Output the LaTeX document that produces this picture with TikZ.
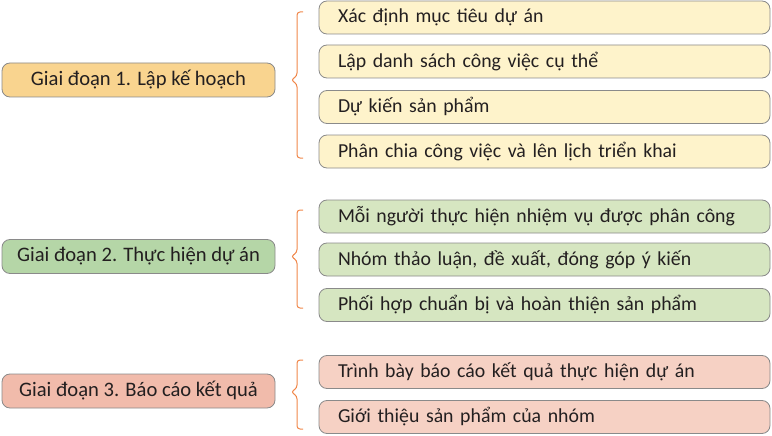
\documentclass[tikz,border=0pt]{standalone}
\usepackage{fontspec}
\setmainfont{Carlito}

\definecolor{ylwDark}{HTML}{F9D48F}
\definecolor{ylwLight}{HTML}{FEF3CB}
\definecolor{grnDark}{HTML}{B5D6A7}
\definecolor{grnLight}{HTML}{D6E6C1}
\definecolor{pnkDark}{HTML}{F1BBAB}
\definecolor{pnkLight}{HTML}{F6D1C4}
\definecolor{braceOrange}{HTML}{F0874A}
\definecolor{boxLine}{HTML}{8A8A8A}
\definecolor{txt}{HTML}{231F20}

\begin{document}
\begin{tikzpicture}[x=1pt,y=-1pt]
  \tikzset{stage/.style = {shape=rectangle, rounded corners=8pt, draw=boxLine, line width=0.8pt,
                           minimum width=273pt, minimum height=34pt, align=center, text=txt,
                           font=\fontsize{20.6pt}{24}\selectfont}}
  \tikzset{task/.style = {shape=rectangle, rounded corners=8pt, draw=boxLine, line width=0.8pt,
                          minimum width=451pt, minimum height=33pt, inner xsep=19pt, text width=413pt,
                          align=left, text=txt, font=\fontsize{19.8pt}{23}\selectfont}}
  \tikzset{bracket/.style = {draw=braceOrange, line width=1pt, rounded corners=3pt}}

  \useasboundingbox (0,0) rectangle (772,436);

  % giai doan
  \node[stage, fill=ylwDark] (p1) at (138.5,80) {Giai đoạn 1. Lập kế hoạch};
  \node[stage, fill=grnDark] (p2) at (138.5,256.5) {Giai đoạn 2. Thực hiện dự án};
  \node[stage, fill=pnkDark] (p3) at (138.5,391) {Giai đoạn 3. Báo cáo kết quả};

  % cong viec
  \node[task, fill=ylwLight] (t11) at (544.5,17.5) {Xác định mục tiêu dự án};
  \node[task, fill=ylwLight] (t12) at (544.5,61.5) {Lập danh sách công việc cụ thể};
  \node[task, fill=ylwLight] (t13) at (544.5,107) {Dự kiến sản phẩm};
  \node[task, fill=ylwLight] (t14) at (544.5,151.5) {Phân chia công việc và lên lịch triển khai};
  \node[task, fill=grnLight] (t21) at (544.5,216.5) {Mỗi người thực hiện nhiệm vụ được phân công};
  \node[task, fill=grnLight] (t22) at (544.5,259.5) {Nhóm thảo luận, đề xuất, đóng góp ý kiến};
  \node[task, fill=grnLight] (t23) at (544.5,305) {Phối hợp chuẩn bị và hoàn thiện sản phẩm};
  \node[task, fill=pnkLight] (t31) at (544.5,372) {Trình bày báo cáo kết quả thực hiện dự án};
  \node[task, fill=pnkLight] (t32) at (544.5,417) {Giới thiệu sản phẩm của nhóm};

  % ngoac
  \draw[bracket] (303,12) -- (297,12) -- (297,76) -- (291,80) -- (297,84) -- (297,158) -- (303,158);
  \draw[bracket] (303,210) -- (297,210) -- (297,252.5) -- (291,256.5) -- (297,260.5) -- (297,308) -- (303,308);
  \draw[bracket] (303,360) -- (297,360) -- (297,388) -- (291,392) -- (297,396) -- (297,429) -- (303,429);

\end{tikzpicture}
\end{document}
